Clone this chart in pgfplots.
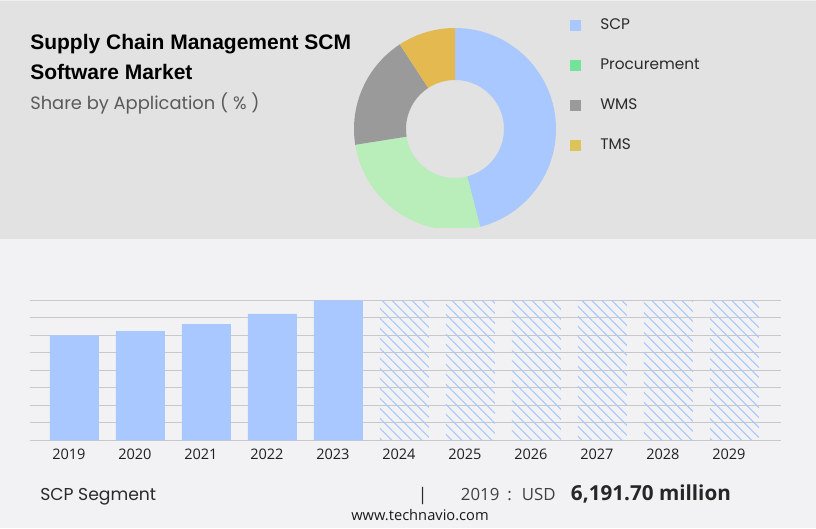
\documentclass[border=0pt]{standalone}
\usepackage{fontspec}
\usepackage{pgfplots}
\pgfplotsset{compat=1.18}
\usepackage{pgfplotstable}
\usetikzlibrary{patterns.meta}
\setmainfont{Open Sans}
\newfontfamily\titlefont{Liberation Sans}
\newfontfamily\geofont{Poppins}
\newfontfamily\uifont{Open Sans}
\definecolor{bgtop}{HTML}{E2E2E2}
\definecolor{bgbot}{HTML}{F2F2F4}
\definecolor{toplight}{HTML}{EEEEEE}
\definecolor{barblue}{HTML}{A8C8FF}
\definecolor{gridc}{HTML}{C8C8C8}
\definecolor{sgreen}{HTML}{B9EEBB}
\definecolor{sgrey}{HTML}{9A9A9A}
\definecolor{syellow}{HTML}{E4BA50}
\definecolor{lgreen}{HTML}{74E39A}
\definecolor{lyellow}{HTML}{DCC45A}
\definecolor{subgrey}{HTML}{5A5A5A}
\definecolor{txtdark}{HTML}{2A2A2A}

\pgfplotstableread{
year value
0 6191.70
1 6445
2 6858
3 7448
4 8256
}\histdata
\pgfplotstableread{
year value
5 8256
6 8256
7 8256
8 8256
9 8256
10 8256
}\forecastdata
\pgfplotstableread{
segment share
SCP 46.0
Procurement 26.5
WMS 18.3
TMS 9.2
}\sharedata

\begin{document}
\begin{tikzpicture}[x=0.75pt,y=0.75pt]
% backgrounds
\fill[bgbot] (0,0) rectangle (816,528);
\fill[bgtop] (0,289) rectangle (816,528);
\fill[toplight] (0,526.5) rectangle (816,528);
\coordinate (donutSW) at (352,300);
\coordinate (barSW) at (30,87.7);

% share angles from the table
\pgfplotstablegetelem{0}{share}\of\sharedata \let\sA\pgfplotsretval
\pgfplotstablegetelem{1}{share}\of\sharedata \let\sB\pgfplotsretval
\pgfplotstablegetelem{2}{share}\of\sharedata \let\sC\pgfplotsretval
\pgfplotstablegetelem{3}{share}\of\sharedata \let\sD\pgfplotsretval
\pgfmathsetmacro\aA{90}
\pgfmathsetmacro\aB{\aA-3.6*\sA}
\pgfmathsetmacro\aC{\aB-3.6*\sB}
\pgfmathsetmacro\aD{\aC-3.6*\sC}
\pgfmathsetmacro\aE{\aD-3.6*\sD}

% donut
\begin{axis}[at={(donutSW)}, anchor=south west, scale only axis,
  width=154.5pt, height=151.5pt,
  xmin=-103, xmax=103, ymin=-99, ymax=103, hide axis]
\fill[barblue] ([shift={(axis cs:0,0)}]\aA:75.75pt) arc[start angle=\aA,end angle=\aB,radius=75.75pt]
  -- ([shift={(axis cs:0,0)}]\aB:36.75pt) arc[start angle=\aB,end angle=\aA,radius=36.75pt] -- cycle;
\fill[sgreen] ([shift={(axis cs:0,0)}]\aB:75.75pt) arc[start angle=\aB,end angle=\aC,radius=75.75pt]
  -- ([shift={(axis cs:0,0)}]\aC:36.75pt) arc[start angle=\aC,end angle=\aB,radius=36.75pt] -- cycle;
\fill[sgrey] ([shift={(axis cs:0,0)}]\aC:75.75pt) arc[start angle=\aC,end angle=\aD,radius=75.75pt]
  -- ([shift={(axis cs:0,0)}]\aD:36.75pt) arc[start angle=\aD,end angle=\aC,radius=36.75pt] -- cycle;
\fill[syellow] ([shift={(axis cs:0,0)}]\aD:75.75pt) arc[start angle=\aD,end angle=\aE,radius=75.75pt]
  -- ([shift={(axis cs:0,0)}]\aE:36.75pt) arc[start angle=\aE,end angle=\aD,radius=36.75pt] -- cycle;
\end{axis}

% titles
\node[anchor=base west, inner sep=0pt, text=black] at (30,478)
  {\titlefont\bfseries\fontsize{15.75}{18}\selectfont Supply Chain Management SCM};
\node[anchor=base west, inner sep=0pt, text=black] at (30,448.7)
  {\titlefont\bfseries\fontsize{15.75}{18}\selectfont Software Market};
\node[anchor=base west, inner sep=0pt, text=subgrey] at (30,418)
  {\geofont\fontsize{13.4}{15}\selectfont Share by Application ( \% )};

% legend
\fill[barblue] (570,497.2) rectangle (581,508.2);
\fill[lgreen] (570,457.2) rectangle (581,468.2);
\fill[sgrey] (570,417.2) rectangle (581,428.2);
\fill[lyellow] (570,377.2) rectangle (581,388.2);
\node[anchor=base west, inner sep=0pt, text=txtdark] at (600,498) {\geofont\fontsize{11.5}{13}\selectfont SCP};
\node[anchor=base west, inner sep=0pt, text=txtdark] at (600,458) {\geofont\fontsize{11.5}{13}\selectfont Procurement};
\node[anchor=base west, inner sep=0pt, text=txtdark] at (600,418) {\geofont\fontsize{11.5}{13}\selectfont WMS};
\node[anchor=base west, inner sep=0pt, text=txtdark] at (600,378) {\geofont\fontsize{11.5}{13}\selectfont TMS};

% bar chart
\begin{axis}[at={(barSW)}, anchor=south west, scale only axis,
  width=563.25pt, height=105pt,
  xmin=-0.674, xmax=10.705, ymin=0, ymax=8256,
  ytick={0,1032,2064,3096,4128,5160,6192,7224,8256},
  yticklabel=\empty,
  ymajorgrids, grid style={gridc, line width=0.75pt},
  axis line style={draw=none},
  major tick length=0pt,
  xtick={0,1,2,3,4,5,6,7,8,9,10},
  xticklabels={2019,2020,2021,2022,2023,2024,2025,2026,2027,2028,2029},
  xticklabel style={font=\uifont\fontsize{10.9}{12}\selectfont, text=black!88,
    xshift=-4.2pt, yshift=-3pt},
  ]
\addplot[ybar, bar width=0.742, bar shift=0pt, fill=barblue, draw=none]
  table[x=year, y=value]{\histdata};
\addplot[ybar, bar width=0.742, bar shift=0pt, draw=none,
  pattern={Lines[angle=-45,distance=5.3pt,line width=0.8pt]}, pattern color=barblue]
  table[x=year, y=value]{\forecastdata};
\end{axis}

% footer
\node[anchor=base west, inner sep=0pt, text=txtdark] at (40,28)
  {\geofont\fontsize{12.9}{14}\selectfont SCP Segment};
\node[anchor=base, inner sep=0pt, text=txtdark] at (422.7,28)
  {\uifont\fontsize{13}{15}\selectfont |};
\node[anchor=base west, inner sep=0pt, text=black!75] at (460.7,28)
  {\uifont\fontsize{12.6}{15}\selectfont 2019};
\node[anchor=base, inner sep=0pt, text=black!75] at (509.5,28)
  {\uifont\fontsize{12.6}{15}\selectfont :};
\node[anchor=base west, inner sep=0pt, text=black!75] at (521.7,28)
  {\uifont\fontsize{12.6}{15}\selectfont USD};
\node[anchor=base west, inner sep=0pt, text=black!85] at (570.7,28)
  {\uifont\bfseries\fontsize{15.5}{17}\selectfont 6,191.70 million};
\node[anchor=base, inner sep=0pt, text=black!90] at (420,8)
  {\uifont\fontsize{11}{12}\selectfont www.technavio.com};
\end{tikzpicture}
\end{document}
